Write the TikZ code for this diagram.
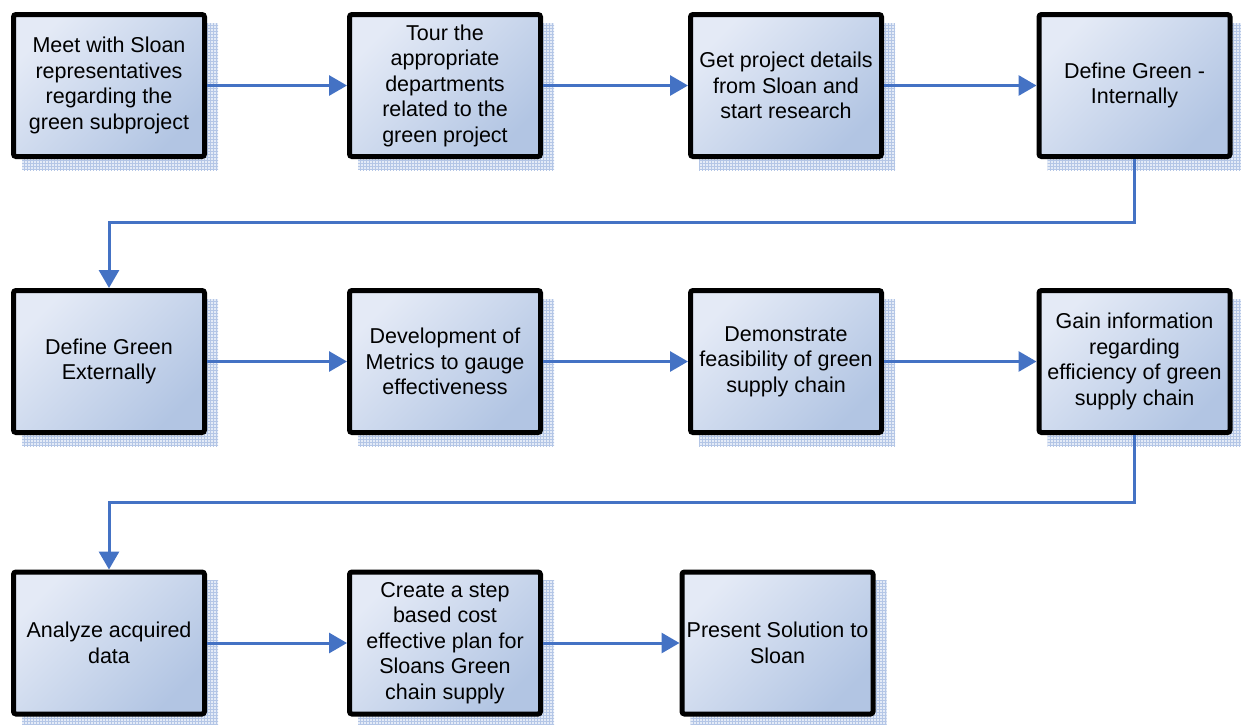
\documentclass[tikz,border=0pt]{standalone}
\usepackage{fontspec}
\setmainfont{Liberation Sans}
\usetikzlibrary{arrows.meta,patterns,backgrounds,calc}
\definecolor{arrowblue}{RGB}{68,114,196}
\definecolor{boxlight}{RGB}{228,234,246}
\definecolor{boxdark}{RGB}{178,197,227}
\definecolor{shadowbg}{RGB}{228,235,247}
\definecolor{shadowline}{RGB}{180,198,230}
\tikzset{
  stepbox/.style={rectangle, draw=black, line width=5pt, rounded corners=2.5pt,
    minimum width=191pt, minimum height=142pt, inner sep=0pt,
    shading=axis, top color=boxlight, bottom color=boxdark, shading angle=45,
    align=center, font=\fontsize{21.5}{25.5}\selectfont, text=black},
  flow/.style={draw=arrowblue, line width=3pt, -{Triangle[length=18pt,width=20pt]}},
  shadowfill/.style={fill=shadowbg},
  shadowpat/.style={pattern=grid, pattern color=shadowline},
}
\begin{document}
\begin{tikzpicture}[x=1pt,y=-1pt]
\useasboundingbox (0,0) rectangle (1241,724);
\node[stepbox] (b1) at (109,85.5) {Meet with Sloan\\representatives\\regarding the\\green subproject};
\node[stepbox] (b2) at (445,85.5) {Tour the\\appropriate\\departments\\related to the\\green project};
\node[stepbox] (b3) at (786,85.5) {Get project details\\from Sloan and\\start research};
\node[stepbox] (b4) at (1134.5,85.5) {Define Green -\\Internally};
\node[stepbox] (b5) at (109,361.5) {Define Green\\Externally};
\node[stepbox] (b6) at (445,361.5) {Development of\\Metrics to gauge\\effectiveness};
\node[stepbox] (b7) at (786,361.5) {Demonstrate\\feasibility of green\\supply chain};
\node[stepbox] (b8) at (1134.5,361.5) {Gain information\\regarding\\efficiency of green\\supply chain};
\node[stepbox] (b9) at (109,643) {Analyze acquired\\data};
\node[stepbox] (b10) at (445,643) {Create a step\\based cost\\effective plan for\\Sloans Green\\chain supply};
\node[stepbox] (b11) at (777.5,643) {Present Solution to\\Sloan};
\begin{scope}[on background layer]
\foreach \n in {b1,b2,b3,b4,b5,b6,b7,b8,b9,b10,b11}{
  \fill[shadowfill] ([shift={(11,11)}]\n.north west) rectangle ([shift={(11,11)}]\n.south east);
  \path[shadowpat] ([shift={(11,11)}]\n.north west) rectangle ([shift={(11,11)}]\n.south east);
}
\end{scope}
\draw[flow] (b1.east) -- (b2.west);
\draw[flow] (b2.east) -- (b3.west);
\draw[flow] (b3.east) -- (b4.west);
\draw[flow] (b4.south) -- ++(0,63) -| (b5.north);
\draw[flow] (b5.east) -- (b6.west);
\draw[flow] (b6.east) -- (b7.west);
\draw[flow] (b7.east) -- (b8.west);
\draw[flow] (b8.south) -- ++(0,67) -| (b9.north);
\draw[flow] (b9.east) -- (b10.west);
\draw[flow] (b10.east) -- (b11.west);
\end{tikzpicture}
\end{document}
